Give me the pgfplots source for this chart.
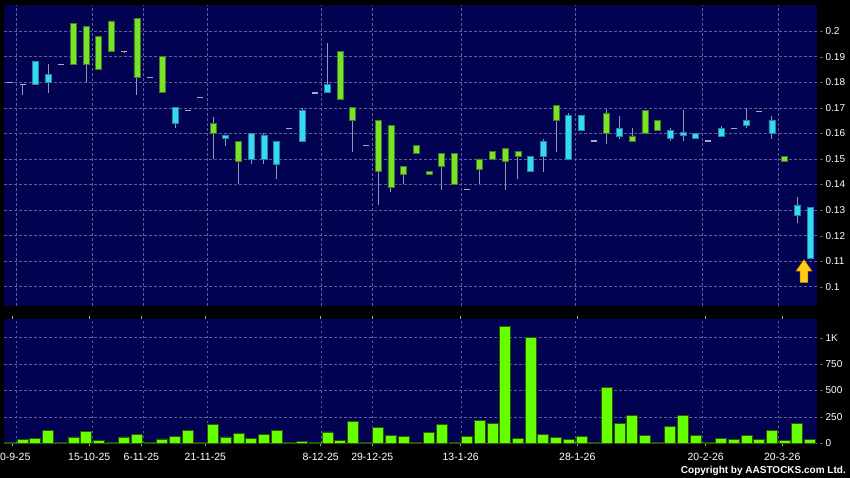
\documentclass[border=0pt]{standalone}
\usepackage{fontspec}
\setmainfont{Liberation Sans}
\usepackage{pgfplots}
\pgfplotsset{compat=1.18}
\usepackage{pgfplotstable}
\usetikzlibrary{shapes.arrows}

\definecolor{navy}{RGB}{2,2,82}
\definecolor{gridc}{RGB}{95,95,150}
\definecolor{cgreen}{RGB}{120,228,40}
\definecolor{cgreenD}{RGB}{70,120,40}
\definecolor{ccyan}{RGB}{50,220,240}
\definecolor{ccyanD}{RGB}{40,130,160}
\definecolor{wickc}{RGB}{150,150,172}
\definecolor{dojic}{RGB}{170,170,190}
\definecolor{vlime}{RGB}{102,255,0}
\definecolor{vlimeD}{RGB}{40,90,0}
\definecolor{tickc}{RGB}{160,160,160}
\definecolor{arrowc}{RGB}{255,205,20}
\definecolor{arrowd}{RGB}{190,120,0}

% candle bodies: top / bottom of body
\pgfplotstableread{
x top bot
5 0.203 0.187
6 0.202 0.187
7 0.198 0.185
8 0.204 0.192
10 0.205 0.182
12 0.190 0.176
16 0.164 0.160
18 0.157 0.149
26 0.192 0.1733
27 0.170 0.165
29 0.165 0.145
30 0.163 0.139
31 0.147 0.144
32 0.1553 0.1522
33 0.1452 0.1440
34 0.152 0.147
35 0.152 0.140
37 0.150 0.146
38 0.153 0.150
39 0.154 0.149
40 0.153 0.151
43 0.171 0.165
47 0.168 0.160
49 0.159 0.157
50 0.169 0.160
51 0.165 0.161
61 0.151 0.149
}\greenbody

\pgfplotstableread{
x top bot
2 0.188 0.179
3 0.183 0.180
13 0.170 0.164
17 0.1594 0.1579
19 0.160 0.150
20 0.1594 0.150
21 0.157 0.148
23 0.169 0.157
25 0.179 0.176
41 0.151 0.145
42 0.157 0.151
44 0.167 0.150
45 0.167 0.161
48 0.162 0.159
52 0.161 0.158
53 0.1602 0.1593
54 0.160 0.158
56 0.162 0.159
58 0.165 0.163
60 0.165 0.160
62 0.132 0.128
63 0.131 0.111
}\cyanbody

% open = close
\pgfplotstableread{
x v
0 0.180
1 0.179
4 0.187
9 0.192
11 0.182
14 0.169
15 0.174
22 0.162
24 0.1758
28 0.1553
36 0.138
46 0.157
55 0.157
57 0.162
59 0.1687
}\doji

% high / low shadows
\pgfplotstableread{
x lo hi
1 0.175 0.179
3 0.176 0.187
6 0.180 0.187
9 0.1913 0.192
10 0.175 0.182
13 0.162 0.164
16 0.150 0.1665
17 0.1552 0.1579
18 0.140 0.149
19 0.148 0.150
20 0.148 0.160
21 0.142 0.148
23 0.157 0.170
25 0.176 0.1954
27 0.1528 0.165
29 0.132 0.145
30 0.137 0.139
31 0.140 0.144
34 0.138 0.147
37 0.140 0.146
39 0.138 0.149
40 0.142 0.151
42 0.145 0.158
43 0.1528 0.165
44 0.150 0.168
47 0.1558 0.1696
48 0.158 0.167
49 0.157 0.162
52 0.157 0.162
53 0.157 0.169
56 0.159 0.163
58 0.162 0.170
60 0.158 0.167
62 0.125 0.135
}\wicks

\pgfplotstableread{
x v
0 5
1 38
2 47
3 125
4 5
5 60
6 116
7 28
8 8
9 60
10 88
11 5
12 41
13 69
14 125
15 12
16 179
17 60
18 94
19 47
20 85
21 122
22 5
23 19
24 5
25 107
26 28
27 210
28 8
29 147
30 72
31 69
32 5
33 106
34 178
35 9
36 69
37 216
38 188
39 1106
40 44
41 1006
42 84
43 59
44 38
45 62
46 6
47 525
48 188
49 266
50 78
51 6
52 156
53 262
54 75
55 6
56 47
57 38
58 72
59 38
60 119
61 25
62 188
63 38
}\vol

\newcommand\ytl[1]{\textcolor{tickc}{-}\hspace{2.5bp}#1}

\pgfplotsset{
  base/.style={
    anchor=south west, scale only axis, width=813.3bp,
    xmin=-0.472, xmax=63.57,
    /pgf/number format/assume math mode=true,
    ticklabel style={font=\fontsize{10bp}{12bp}\selectfont, text=white},
  },
  price/.style={base, at={(4bp,172.3bp)}, height=300.4bp,
    ymin=0.09256, ymax=0.21014},
  gridded/.style={
    axis background/.style={fill=navy},
    axis line style={draw=none},
    grid style={draw=gridc, dash pattern=on 2.5bp off 2.5bp, line width=0.6bp},
    xmajorgrids, ymajorgrids,
    xtick={0.5,6.5,10.5,15.5,24.5,28.5,35.5,44.5,54.5,60.5},
    xticklabels={},
    major tick style={draw=none},
    ytick pos=right, yticklabel pos=right,
    yticklabel style={anchor=west, xshift=-1bp},
  },
}

\begin{document}
\begin{tikzpicture}
\path[use as bounding box, fill=black] (0,0) rectangle (850bp,478bp);

% price panel: grid, shadows, open=close dashes
\begin{axis}[price, gridded,
  ytick={0.1,0.11,0.12,0.13,0.14,0.15,0.16,0.17,0.18,0.19,0.2},
  yticklabels={\ytl{0.1},\ytl{0.11},\ytl{0.12},\ytl{0.13},\ytl{0.14},\ytl{0.15},\ytl{0.16},\ytl{0.17},\ytl{0.18},\ytl{0.19},\ytl{0.2}},
]
\addplot[draw=none, mark=none, error bars/.cd, y dir=plus, y explicit,
  error mark=none, error bar style={draw=wickc, line width=1bp, solid}]
  table[x=x, y=lo, y error expr=\thisrow{hi}-\thisrow{lo}] {\wicks};
\addplot[only marks, mark=-, mark size=3bp,
  mark options={draw=dojic, line width=1.2bp}]
  table[x=x, y=v] {\doji};
\end{axis}

% green bodies
\begin{axis}[price, hide axis, ybar stacked, bar width=6bp]
\addplot[draw=none, fill=none] table[x=x, y=bot] {\greenbody};
\addplot[fill=cgreen, draw=cgreenD, line width=0.8bp]
  table[x=x, y expr=\thisrow{top}-\thisrow{bot}] {\greenbody};
\end{axis}

% cyan bodies
\begin{axis}[price, hide axis, ybar stacked, bar width=6bp]
\addplot[draw=none, fill=none] table[x=x, y=bot] {\cyanbody};
\addplot[fill=ccyan, draw=ccyanD, line width=0.8bp]
  table[x=x, y expr=\thisrow{top}-\thisrow{bot}] {\cyanbody};
\node[single arrow, rotate=90, fill=arrowc, draw=arrowd,
  line width=0.5bp, minimum height=23bp, minimum width=15.7bp,
  single arrow head extend=4.2bp, single arrow tip angle=70,
  inner sep=0pt]
  at (axis cs:62.52,0.1050) {\rule{0pt}{7.3bp}};
\end{axis}

% volume panel
\begin{axis}[base, gridded, at={(4bp,34.7bp)}, height=124bp,
  ymin=0, ymax=1174, ybar, bar width=11bp,
  ytick={0,250,500,750,1000},
  yticklabels={\ytl{0},\ytl{250},\ytl{500},\ytl{750},\ytl{1K}},
  extra x ticks={0.18,6.24,10.34,15.38,24.46,28.53,35.49,44.67,54.78,60.81},
  extra x tick labels={30-9-25,15-10-25,6-11-25,21-11-25,8-12-25,29-12-25,13-1-26,28-1-26,20-2-26,20-3-26},
  extra x tick style={grid=none, tick align=outside, major tick length=3bp,
    major tick style={draw=tickc, line width=0.8bp},
    xticklabel style={font=\fontsize{10.5bp}{12bp}\selectfont, text=white, yshift=-3.5bp}},
]
\addplot[fill=vlime, draw=vlimeD, line width=0.8bp] table[x=x, y=v] {\vol};
\end{axis}

\node[anchor=base east, text=white, inner sep=0pt,
  font=\fontsize{10bp}{12bp}\selectfont\bfseries]
  at (846bp,5bp) {Copyright by AASTOCKS.com Ltd.};
\end{tikzpicture}
\end{document}
